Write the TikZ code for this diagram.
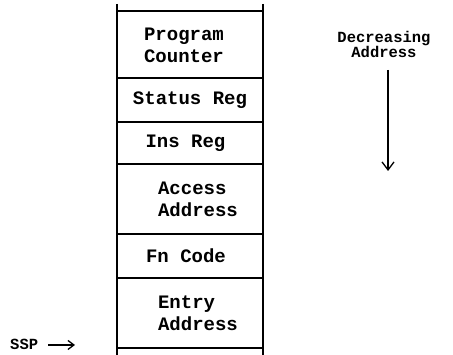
\documentclass[tikz,border=0pt]{standalone}
\usepackage{fontspec}
\setmonofont{Liberation Mono}
\usetikzlibrary{arrows.meta}
\tikzset{
  cell/.style={font=\ttfamily\bfseries\fontsize{19}{22}\selectfont, inner sep=0pt, align=left},
  side/.style={font=\ttfamily\bfseries\fontsize{15.5}{15}\selectfont, inner sep=0pt, align=center},
  stackline/.style={line width=1.2pt},
  pointer/.style={line width=1.3pt, -{Straight Barb[length=8pt,width=12pt,line width=1.3pt]}},
  smallpointer/.style={line width=1.3pt, -{Straight Barb[length=6pt,width=9pt,line width=1.3pt]}}
}
\begin{document}
\begin{tikzpicture}[x=1pt,y=-1pt]
\useasboundingbox (0,0) rectangle (453,355);
% stack frame lines
\draw[stackline] (117,4) -- (117,355);
\draw[stackline] (263,4) -- (263,355);
\foreach \yy in {11,78,122,164,234,278,348}
  \draw[stackline] (117,\yy) -- (263,\yy);
% cell texts
\node[cell] (pc) at (184,45) {Program\\Counter};
\node[cell] (sr) at (190,100) {Status Reg};
\node[cell] (ir) at (185.5,143) {Ins Reg};
\node[cell] (aa) at (198,199) {Access\\Address};
\node[cell] (fc) at (186,256) {Fn Code};
\node[cell] (ea) at (198,313) {Entry\\Address};
% decreasing address
\node[side] (dec) at (384,44) {Decreasing\\Address};
\coordinate (arrtop) at (388,70);
\coordinate (arrbot) at (388,171);
\draw[pointer] (arrtop) -- (arrbot);
% SSP
\node[side, anchor=west] (ssp) at (10,344) {SSP};
\coordinate (sspstart) at (48,345);
\coordinate (sspend) at (75,345);
\draw[smallpointer] (sspstart) -- (sspend);
\end{tikzpicture}
\end{document}
